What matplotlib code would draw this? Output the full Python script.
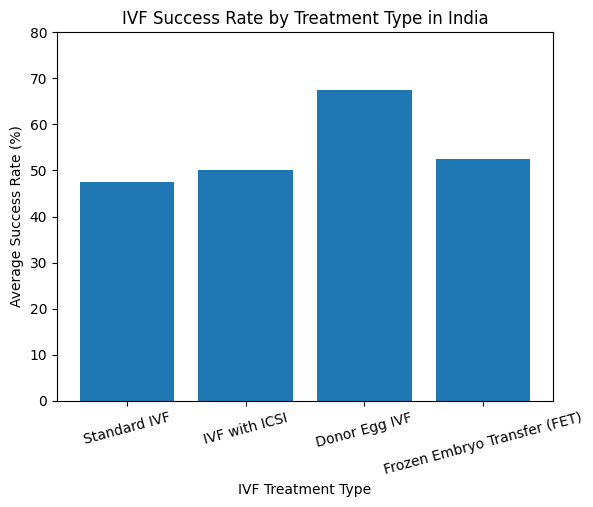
import matplotlib
matplotlib.use("Agg")
import matplotlib.pyplot as plt

treatments = ["Standard IVF", "IVF with ICSI", "Donor Egg IVF", "Frozen Embryo Transfer (FET)"]
success_rates = [47.5, 50.0, 67.5, 52.5]

fig = plt.figure(figsize=(5.93, 5.07), dpi=100)
ax = fig.add_axes([57/593, 1-401/507, (553-57)/593, (401-32)/507])
ax.bar(treatments, success_rates, color="#1f77b4")
ax.set_ylim(0, 80)
ax.set_title("IVF Success Rate by Treatment Type in India")
ax.set_xlabel("IVF Treatment Type")
ax.set_ylabel("Average Success Rate (%)")
plt.setp(ax.get_xticklabels(), rotation=15)
fig.savefig("out.png", dpi=100)
